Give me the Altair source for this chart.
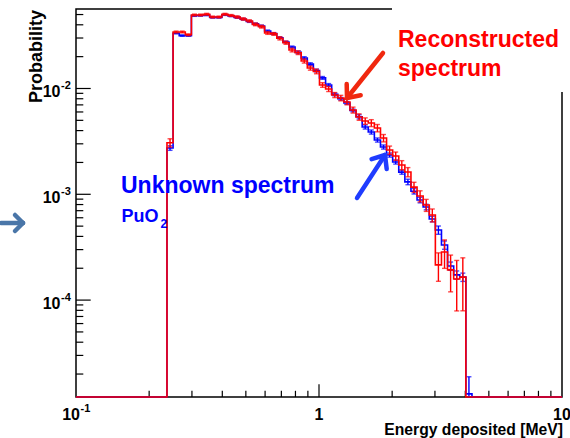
import altair as alt
import pandas as pd

# ---------------- data ----------------
# log-spaced bin edges (MeV)
edges = [0.2368, 0.2509, 0.2659, 0.2817, 0.2985, 0.3162, 0.3351, 0.3550, 0.3762, 0.3986,
         0.4223, 0.4474, 0.4741, 0.5023, 0.5322, 0.5636, 0.5972, 0.6328, 0.6705, 0.7104,
         0.7526, 0.7975, 0.8448, 0.8951, 0.9482, 1.0046, 1.0644, 1.1277, 1.1948, 1.2658,
         1.3412, 1.4209, 1.5055, 1.5950, 1.6899, 1.7906, 1.8967, 2.0097, 2.1292, 2.2561,
         2.3900, 2.5323, 2.6830, 2.8430, 3.0120, 3.1915, 3.3813, 3.5826, 3.7957, 4.0220,
         4.2616]

# reconstructed spectrum (red), 49 bins
red_vals = [0.00307, 0.0342, 0.0342, 0.0322, 0.0495, 0.0495, 0.0503, 0.0474, 0.0474, 0.0503,
            0.0490, 0.0474, 0.0454, 0.0435, 0.0404, 0.0384, 0.0335, 0.0328, 0.0298, 0.0271,
            0.0231, 0.0218, 0.0182, 0.0156, 0.0145, 0.0108, 0.0099, 0.00868, 0.00813, 0.00746,
            0.00626, 0.00538, 0.00493, 0.00472, 0.00423, 0.0034, 0.00262, 0.0023, 0.00189, 0.001625,
            0.00117, 0.000963, 0.000792, 0.000637, 0.000215, 0.000285, 0.000193, 0.000158, 0.000165]
red_rel_err = [0.09, 0.02, 0.02, 0.02, 0.02, 0.02, 0.02, 0.02, 0.02, 0.02,
               0.02, 0.025, 0.025, 0.025, 0.03, 0.03, 0.03, 0.03, 0.035, 0.035,
               0.04, 0.04, 0.045, 0.045, 0.05, 0.05, 0.055, 0.055, 0.06, 0.06,
               0.065, 0.07, 0.07, 0.075, 0.08, 0.08, 0.09, 0.09, 0.1, 0.1,
               0.11, 0.12, 0.13, 0.14, 0.30, 0.30, 0.38, 0.50, 0.52]

# unknown spectrum PuO2 (blue), 50 bins
blue_vals = [0.00274, 0.0333, 0.0316, 0.0316, 0.0488, 0.0490, 0.0495, 0.0470, 0.0470, 0.0498,
             0.0485, 0.0470, 0.0452, 0.0430, 0.0408, 0.0390, 0.0350, 0.0330, 0.0302, 0.0275,
             0.0247, 0.0220, 0.0194, 0.0170, 0.0148, 0.0126, 0.0108, 0.0088, 0.0080, 0.0073,
             0.0062, 0.0054, 0.00433, 0.00388, 0.00326, 0.0028, 0.00235, 0.00202, 0.00162, 0.00131,
             0.00107, 0.000883, 0.000759, 0.000584, 0.00046, 0.000332, 0.00021, 0.000173, 0.000165, 0.000013]
blue_rel_err = [0.05, 0.015, 0.015, 0.015, 0.015, 0.015, 0.015, 0.015, 0.015, 0.015,
                0.015, 0.02, 0.02, 0.02, 0.02, 0.02, 0.02, 0.02, 0.02, 0.02,
                0.02, 0.03, 0.03, 0.03, 0.03, 0.03, 0.03, 0.03, 0.03, 0.03,
                0.03, 0.045, 0.045, 0.045, 0.045, 0.045, 0.045, 0.045, 0.045, 0.06,
                0.06, 0.06, 0.06, 0.06, 0.09, 0.09, 0.09, 0.09, 0.09, 0.45]

EMPTY = 1e-9  # empty bin (drawn on the frame bottom, like ROOT)

X_DOMAIN = [0.1, 10]
Y_DOMAIN = [1.2135e-5, 0.05641]

x_major = [1]
x_minor = [0.2, 0.3, 0.4, 0.5, 0.6, 0.7, 0.8, 0.9, 2, 3, 4, 5, 6, 7, 8, 9]
y_major = [1e-4, 1e-3, 1e-2]
y_minor = [2e-5, 3e-5, 4e-5, 5e-5, 6e-5, 7e-5, 8e-5, 9e-5,
           2e-4, 3e-4, 4e-4, 5e-4, 6e-4, 7e-4, 8e-4, 9e-4,
           2e-3, 3e-3, 4e-3, 5e-3, 6e-3, 7e-3, 8e-3, 9e-3,
           2e-2, 3e-2, 4e-2, 5e-2]
y_label_vals = [1e-2, 1e-3, 1e-4]
y_label_exp = ["-2", "-3", "-4"]
x_label_vals = [1, 10]
x_label_txt = ["1", "10"]

# ---------------- layout ----------------
PAD_L, PAD_T, PAD_R, PAD_B = 76, 9, 8, 41
W, H = 570 - PAD_L - PAD_R, 438 - PAD_T - PAD_B
def gx(x):
    return x - PAD_L
def gy(y):
    return y - PAD_T

ROOT_FONT = "Liberation Sans, Arial, sans-serif"
ANN_FONT = "Liberation Sans, Arial, sans-serif"
RED = "#ff0000"
BLUE = "#0000ff"

xs = alt.Scale(type="log", domain=X_DOMAIN)
ys = alt.Scale(type="log", domain=Y_DOMAIN, clamp=True)

def hist_df(vals):
    n = len(vals)
    rows = [{"e": X_DOMAIN[0], "v": EMPTY}]
    rows += [{"e": edges[i], "v": vals[i]} for i in range(n)]
    rows += [{"e": edges[n], "v": EMPTY}, {"e": X_DOMAIN[1], "v": EMPTY}]
    return pd.DataFrame(rows)

def err_df(vals, rel):
    rows = []
    for i, (v, r) in enumerate(zip(vals, rel)):
        c = (edges[i] * edges[i + 1]) ** 0.5
        rows.append({"c": c, "lo": v * (1 - r), "hi": v * (1 + r)})
    return pd.DataFrame(rows)

def hist_layers(vals, rel, color):
    line = alt.Chart(hist_df(vals)).mark_line(
        interpolate="step-after", color=color, strokeWidth=1.6
    ).encode(x=alt.X("e:Q", scale=xs, axis=None), y=alt.Y("v:Q", scale=ys, axis=None))
    ed = err_df(vals, rel)
    bar = alt.Chart(ed).mark_rule(color=color, strokeWidth=1.4).encode(
        x=alt.X("c:Q", scale=xs, axis=None), y=alt.Y("lo:Q", scale=ys, axis=None), y2="hi:Q")
    cap_hi = alt.Chart(ed).mark_tick(color=color, orient="horizontal", size=5, thickness=1.4).encode(
        x=alt.X("c:Q", scale=xs, axis=None), y=alt.Y("hi:Q", scale=ys, axis=None))
    cap_lo = alt.Chart(ed).mark_tick(color=color, orient="horizontal", size=5, thickness=1.4).encode(
        x=alt.X("c:Q", scale=xs, axis=None), y=alt.Y("lo:Q", scale=ys, axis=None))
    return [line, bar, cap_hi, cap_lo]

one = pd.DataFrame({"a": [0]})

def seg(x1, y1, x2, y2, color, w):
    return alt.Chart(one).mark_rule(color=color, strokeWidth=w, strokeCap="round").encode(
        x=alt.value(gx(x1)), y=alt.value(gy(y1)), x2=alt.value(gx(x2)), y2=alt.value(gy(y2)))

def box(x1, y1, x2, y2):
    return alt.Chart(one).mark_rect(color="white").encode(
        x=alt.value(gx(x1)), y=alt.value(gy(y1)), x2=alt.value(gx(x2)), y2=alt.value(gy(y2)))

def label(txt, x, y, size, color, font, weight="bold", align="left", angle=0):
    return alt.Chart(pd.DataFrame({"t": [txt]})).mark_text(
        align=align, baseline="alphabetic", font=font, fontSize=size, fontWeight=weight,
        color=color, angle=angle
    ).encode(text="t:N", x=alt.value(gx(x)), y=alt.value(gy(y)))

layers = []
# white boxes behind the annotation texts (they hide part of the plot as in the slide)
layers.append(box(392, 0, 570, 92))
layers.append(box(112, 154, 342, 237))

# ticks (inward)
layers.append(alt.Chart(pd.DataFrame({"v": y_major})).mark_rule(color="black", strokeWidth=1.2).encode(
    y=alt.Y("v:Q", scale=ys, axis=None), x=alt.value(0), x2=alt.value(14.7)))
layers.append(alt.Chart(pd.DataFrame({"v": y_minor})).mark_rule(color="black", strokeWidth=1.2).encode(
    y=alt.Y("v:Q", scale=ys, axis=None), x=alt.value(0), x2=alt.value(7.3)))
layers.append(alt.Chart(pd.DataFrame({"v": x_major})).mark_rule(color="black", strokeWidth=1.2).encode(
    x=alt.X("v:Q", scale=xs, axis=None), y=alt.value(H), y2=alt.value(H - 12.7)))
layers.append(alt.Chart(pd.DataFrame({"v": x_minor})).mark_rule(color="black", strokeWidth=1.2).encode(
    x=alt.X("v:Q", scale=xs, axis=None), y=alt.value(H), y2=alt.value(H - 6.2)))

# histograms
layers += hist_layers(blue_vals, blue_rel_err, BLUE)
layers += hist_layers(red_vals, red_rel_err, RED)

# tick labels
yl = pd.DataFrame({"v": y_label_vals, "b": ["10"] * 3, "e": y_label_exp})
layers.append(alt.Chart(yl).mark_text(align="right", baseline="alphabetic", dy=8.5, font=ROOT_FONT,
                                      fontSize=16, fontWeight="bold", color="black").encode(
    y=alt.Y("v:Q", scale=ys, axis=None), x=alt.value(gx(60.5)), text="b:N"))
layers.append(alt.Chart(yl).mark_text(align="left", baseline="alphabetic", dy=1, font=ROOT_FONT,
                                      fontSize=11, fontWeight="bold", color="black").encode(
    y=alt.Y("v:Q", scale=ys, axis=None), x=alt.value(gx(61)), text="e:N"))
xl = pd.DataFrame({"v": x_label_vals, "t": x_label_txt})
layers.append(alt.Chart(xl).mark_text(align="center", baseline="alphabetic", font=ROOT_FONT,
                                      fontSize=16, fontWeight="bold", color="black").encode(
    x=alt.X("v:Q", scale=xs, axis=None), y=alt.value(gy(419.5)), text="t:N"))
layers.append(label("10", 80, 420, 16, "black", ROOT_FONT, align="right"))
layers.append(label("-1", 80.5, 412, 11, "black", ROOT_FONT))

# axis titles
layers.append(label("Energy deposited [MeV]", 563, 434.5, 15.7, "black", ROOT_FONT, align="right"))
layers.append(label("Probability", 41.5, 10, 18, "black", ROOT_FONT, align="right", angle=270))

# annotations
layers.append(label("Reconstructed", 398, 47, 23, RED, ANN_FONT))
layers.append(label("spectrum", 398, 76, 23, RED, ANN_FONT))
layers.append(label("Unknown spectrum", 121, 193, 23, BLUE, ANN_FONT))
layers.append(label("PuO", 121.5, 221.5, 18, BLUE, ANN_FONT))
layers.append(label("2", 160.5, 228, 12, BLUE, ANN_FONT))

# arrows
AR = "#f0280f"
layers += [seg(383, 53, 347, 98, AR, 4.5), seg(347, 98, 360.7, 95.3, AR, 4.5), seg(347, 98, 346.7, 84, AR, 4.5)]
AB = "#1f3cff"
layers += [seg(357, 198, 385, 155, AB, 4.5), seg(385, 155, 371.6, 159.1, AB, 4.5), seg(385, 155, 386.7, 168.9, AB, 4.5)]
AS = "#4a76a8"
layers += [seg(1, 223, 23, 223, AS, 4.5), seg(23, 223, 15, 215, AS, 4.5), seg(23, 223, 15, 231, AS, 4.5)]

chart = alt.layer(*layers).properties(
    width=W, height=H, autosize="none",
    padding={"left": PAD_L, "top": PAD_T, "right": PAD_R, "bottom": PAD_B},
    background="white",
).configure_view(stroke="black", strokeWidth=1.5)

chart.save("out.html", embed_options={"renderer": "svg", "actions": False})
